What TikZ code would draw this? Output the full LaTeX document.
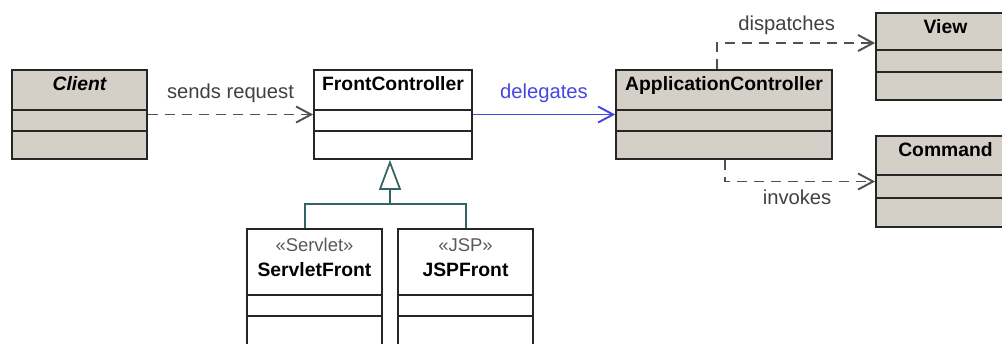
\documentclass[tikz,border=0pt]{standalone}
\usepackage{fontspec}
\setmainfont{Liberation Sans}
\usepackage{tikz}
\usetikzlibrary{arrows.meta}
\definecolor{umlgray}{RGB}{212,208,200}
\definecolor{deplinegray}{RGB}{80,80,80}
\definecolor{delegblue}{RGB}{70,70,225}
\definecolor{genteal}{RGB}{50,100,100}
\newcommand{\umldiv}[2]{\draw[boxline] (#1.west |- 0,#2) -- (#1.east |- 0,#2);}

\begin{document}
\begin{tikzpicture}[x=0.02cm, y=-0.02cm,
    boxline/.style={draw=black!85, line width=1pt},
    classbox/.style={boxline, inner sep=0pt},
    umltitle/.style={font=\fontsize{11}{13}\selectfont\bfseries, inner sep=0pt, text height=0.72em, text depth=0.2em},
    stereo/.style={font=\fontsize{10.5}{12}\selectfont, text=black!65, inner sep=0pt},
    lbl/.style={font=\fontsize{11.5}{13}\selectfont, text=black!75, inner sep=1pt},
    dep/.style={draw=deplinegray, line width=1.1pt, dash pattern=on 0.2cm off 0.14cm, -{Straight Barb[length=0.3cm, width=0.32cm]}},
    deleg/.style={draw=delegblue, line width=1.1pt, -{Straight Barb[length=0.3cm, width=0.32cm]}},
    gen/.style={draw=genteal, line width=1pt}]

    \useasboundingbox (0,0) rectangle (1002,343);
    \clip (0,0) rectangle (1002,343);

    % class boxes
    \node[classbox, fill=umlgray, minimum width=2.7cm, minimum height=1.78cm] (client) at (79.5,114.5) {};
    \node[classbox, fill=white, minimum width=3.16cm, minimum height=1.78cm] (front) at (393,114.5) {};
    \node[classbox, fill=umlgray, minimum width=4.32cm, minimum height=1.78cm] (app) at (724,114.5) {};
    \node[classbox, fill=umlgray, minimum width=2.78cm, minimum height=1.74cm] (view) at (945.5,56.5) {};
    \node[classbox, fill=umlgray, minimum width=2.78cm, minimum height=1.82cm] (cmd) at (945.5,181.5) {};
    \node[classbox, fill=white, minimum width=2.7cm, minimum height=2.62cm] (servlet) at (314.5,294.5) {};
    \node[classbox, fill=white, minimum width=2.7cm, minimum height=2.62cm] (jsp) at (465.5,294.5) {};

    \umldiv{client}{110} \umldiv{client}{131}
    \umldiv{front}{110} \umldiv{front}{131}
    \umldiv{app}{110} \umldiv{app}{131}
    \umldiv{view}{50} \umldiv{view}{72}
    \umldiv{cmd}{175} \umldiv{cmd}{198}
    \umldiv{servlet}{295} \umldiv{servlet}{316}
    \umldiv{jsp}{295} \umldiv{jsp}{316}

    % titles
    \node[umltitle, font=\fontsize{11}{13}\selectfont\bfseries\itshape] (clientname) at (79.5,86) {Client};
    \node[umltitle] (frontname) at (393,86) {FrontController};
    \node[umltitle] (appname) at (724,86) {ApplicationController};
    \node[umltitle] (viewname) at (945.5,29) {View};
    \node[umltitle] (cmdname) at (945.5,152) {Command};
    \node[stereo] (servletstereo) at (314.5,245) {«Servlet»};
    \node[umltitle] (servletname) at (314.5,272) {ServletFront};
    \node[stereo] (jspstereo) at (465.5,245) {«JSP»};
    \node[umltitle] (jspname) at (465.5,272) {JSPFront};

    % connectors
    \draw[dep] (client) -- (front) node[lbl, midway, above=5pt] (sendlbl) {sends request};
    \draw[deleg] (front) -- (app) node[lbl, text=delegblue, midway, above=5pt] (deleglbl) {delegates};
    \draw[dep] ([xshift=-0.14cm]app.north) |- ([yshift=0.27cm]view.west)
        node[lbl, pos=0.72, above=3pt] (displbl) {dispatches};
    \draw[dep] ([xshift=0.02cm]app.south) |- (cmd.west)
        node[lbl, pos=0.74, below=3pt] (invlbl) {invokes};

    % generalization
    \coordinate (forkl) at (305,204);
    \coordinate (fork) at (390,204);
    \coordinate (forkr) at (466,204);
    \draw[gen] (servlet.north -| forkl) -- (forkl) -- (forkr) -- (jsp.north -| forkr);
    \draw[gen, -{Triangle[open, length=0.6cm, width=0.44cm]}] (fork) -- (front.south -| fork);

\end{tikzpicture}
\end{document}
